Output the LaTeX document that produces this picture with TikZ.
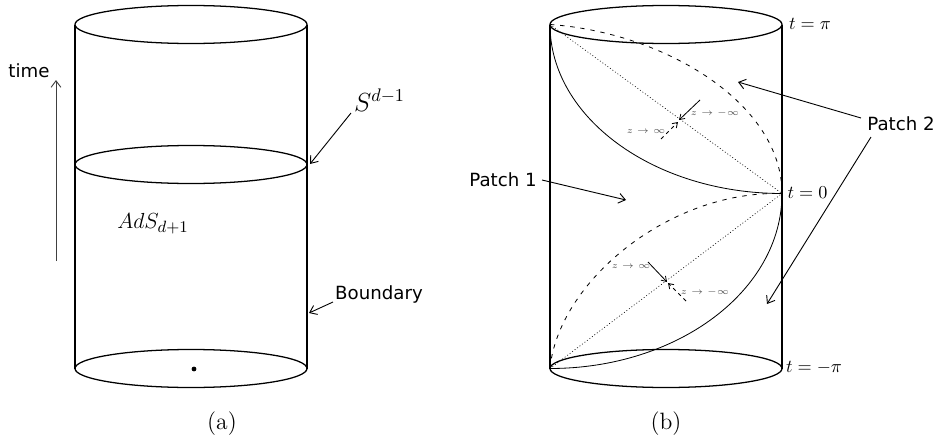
\documentclass[tikz,border=0pt]{standalone}
\usepackage{amsmath}
\usepackage{amssymb}
\usepackage{fontspec}
\newfontfamily\labelfont{DejaVu Sans}
\usepackage{tikz}
\usetikzlibrary{arrows.meta}
\tikzset{
	rim/.style={line width=0.7pt},
	curve/.style={line width=0.45pt},
	sparse/.style={line width=0.45pt,dash pattern=on 2.4pt off 3.2pt},
	fine/.style={line width=0.35pt,dash pattern=on 0.5pt off 1.2pt},
	pointer/.style={-{Straight Barb[length=3.6pt,width=5.4pt]},line width=0.5pt},
	probe/.style={-{Straight Barb[length=2.6pt,width=3.4pt]},line width=0.45pt},
	plain/.style={font=\labelfont},
	tinytext/.style={font=\tiny,text=black!65,inner sep=0pt},
}
\begin{document}
\begin{tikzpicture}[x=0.55pt,y=-0.55pt]
	\useasboundingbox (0,0) rectangle (943,439);
	% the two cylinders
	\foreach \c in {191,666}{
		\draw[rim] (\c-116,24.5) -- (\c-116,368.5);
		\draw[rim] (\c+116,24.5) -- (\c+116,368.5);
		\draw[rim] (\c,24.5) ellipse (116 and 19);
		\draw[rim] (\c,368.5) ellipse (116 and 19);
	}
	\draw[rim] (191,164.5) ellipse (116 and 19);
	\fill (194,369) circle (2.4);
	% left cylinder
	\node[plain] (time) at (29,71) {time};
	\coordinate (timefoot) at (56,261);
	\coordinate (timetip) at (56,80);
	\draw[pointer,draw=black!75] (timefoot) -- (timetip);
	\node (sphere) at (379.5,100) {\Large $S^{d-1}$};
	\coordinate (spherefoot) at (351,113);
	\coordinate (spheretip) at (310,164);
	\draw[pointer] (spherefoot) -- (spheretip);
	\node (ads) at (153,224) {\fontsize{13}{15}\selectfont $AdS_{d+1}$};
	\node[plain] (boundary) at (379,294) {Boundary};
	\coordinate (boundaryfoot) at (333,302);
	\coordinate (boundarytip) at (309,313);
	\draw[pointer] (boundaryfoot) -- (boundarytip);
	\node (capa) at (222,424) {\fontsize{13}{15}\selectfont (a)};
	% right cylinder
	\coordinate (top) at (550,24.5);
	\coordinate (mid) at (782,193.5);
	\coordinate (bot) at (550,368.5);
	\draw[curve] (top) .. controls +(0,93) and +(-128,0) .. (mid);
	\draw[sparse] (top) .. controls +(115,8) and +(0,-90) .. (mid);
	\draw[fine] (top) -- (mid);
	\draw[curve] (bot) .. controls +(128,0) and +(0,97) .. (mid);
	\draw[sparse] (bot) .. controls +(8,-85) and +(-115,-3) .. (mid);
	\draw[fine] (bot) -- (mid);
	\node (tpi) at (810,24) {$t=\pi$};
	\node (tzero) at (807.5,193) {$t=0$};
	\node (tminus) at (814,368) {$t=-\pi$};
	\node[plain] (patchone) at (503,180) {Patch 1};
	\coordinate (patchonefoot) at (542,180);
	\coordinate (patchonetip) at (626,200);
	\draw[pointer] (patchonefoot) -- (patchonetip);
	\node[plain] (patchtwo) at (901,124) {Patch 2};
	\coordinate (patchtwoleft) at (861,118);
	\coordinate (patchtwolow) at (871,137);
	\coordinate (patchtwoup) at (738,82);
	\coordinate (patchtwodown) at (767,304);
	\draw[pointer] (patchtwoleft) -- (patchtwoup);
	\draw[pointer] (patchtwolow) -- (patchtwodown);
	% small arrows on the dotted lines
	\coordinate (upa) at (700,100);
	\coordinate (upb) at (661,139);
	\coordinate (upc) at (679,120);
	\coordinate (upd) at (678,122);
	\draw[probe] (upa) -- (upc);
	\draw[probe,dash pattern=on 2pt off 2pt] (upb) -- (upd);
	\node[tinytext] (upminus) at (715,113) {$z\to-\infty$};
	\node[tinytext] (upplus) at (646,132) {$z\to\infty$};
	\coordinate (loa) at (648,262);
	\coordinate (lob) at (686,301);
	\coordinate (loc) at (667,282);
	\coordinate (lod) at (668,283);
	\draw[probe] (loa) -- (loc);
	\draw[probe,dash pattern=on 2pt off 2pt] (lob) -- (lod);
	\node[tinytext] (loplus) at (631,267) {$z\to\infty$};
	\node[tinytext] (lominus) at (705,292) {$z\to-\infty$};
	\node (capb) at (666,424) {\fontsize{13}{15}\selectfont (b)};
\end{tikzpicture}
\end{document}
